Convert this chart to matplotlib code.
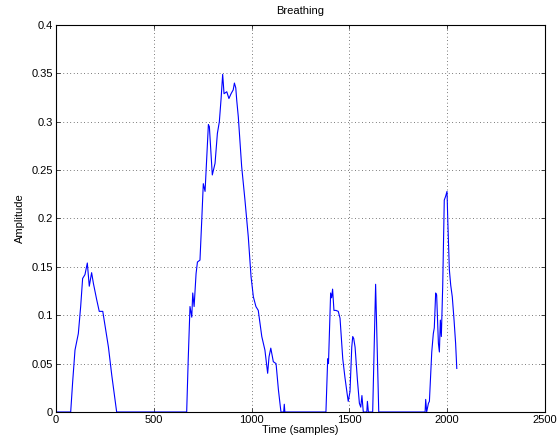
import matplotlib

matplotlib.use("Agg")
import matplotlib.pyplot as plt

# точки кривой (отсчёты, амплитуда)
samples = [
    0, 75, 85, 97, 114, 126, 136, 148, 160, 170, 182, 191, 208, 221, 239, 250, 268, 285, 310,
    668, 676, 685, 694, 699, 706, 716, 723, 736, 745, 753, 762, 779, 784, 799, 813, 825, 835,
    844, 852, 859, 873, 884, 895, 906, 912, 919, 924, 932, 949, 966, 983, 997, 1009, 1022,
    1034, 1052, 1068, 1082, 1089, 1098, 1111, 1125, 1137, 1150, 1164, 1167, 1170,
    1380, 1389, 1393, 1404, 1409, 1414, 1421, 1431, 1443, 1452, 1466, 1477, 1489, 1494, 1503,
    1512, 1517, 1522, 1529, 1541, 1551, 1558, 1564, 1571, 1589, 1592, 1597, 1619, 1634, 1650,
    1887, 1890, 1895, 1904, 1909, 1921, 1929, 1934, 1941, 1946, 1955, 1960, 1965, 1970, 1977,
    1985, 1992, 1999, 2003, 2011, 2018, 2026, 2035, 2043, 2049,
]
amplitude = [
    0, 0, 0.031, 0.064, 0.081, 0.109, 0.138, 0.142, 0.154, 0.130, 0.144, 0.133, 0.116, 0.104,
    0.104, 0.090, 0.067, 0.038, 0,
    0, 0.055, 0.109, 0.098, 0.123, 0.109, 0.143, 0.155, 0.157, 0.198, 0.236, 0.228, 0.297,
    0.295, 0.245, 0.257, 0.288, 0.300, 0.324, 0.349, 0.329, 0.331, 0.324, 0.329, 0.333, 0.340,
    0.335, 0.322, 0.305, 0.254, 0.219, 0.181, 0.140, 0.119, 0.109, 0.105, 0.078, 0.064, 0.040,
    0.057, 0.066, 0.052, 0.050, 0.023, 0, 0, 0.008, 0,
    0, 0.055, 0.050, 0.123, 0.118, 0.127, 0.105, 0.105, 0.104, 0.097, 0.055, 0.036, 0.018,
    0.011, 0.021, 0.067, 0.078, 0.076, 0.067, 0.033, 0.009, 0.005, 0.017, 0, 0, 0.011, 0, 0,
    0.132, 0,
    0, 0.013, 0, 0.009, 0.011, 0.062, 0.081, 0.087, 0.123, 0.121, 0.071, 0.062, 0.095, 0.078,
    0.130, 0.219, 0.223, 0.228, 0.198, 0.147, 0.131, 0.119, 0.095, 0.071, 0.045,
]

x_ticks = [0, 500, 1000, 1500, 2000, 2500]
y_ticks = [0, 0.05, 0.1, 0.15, 0.2, 0.25, 0.3, 0.35, 0.4]
y_labels = ["0", "0.05", "0.1", "0.15", "0.2", "0.25", "0.3", "0.35", "0.4"]

plt.rcParams["font.family"] = ["Liberation Sans", "DejaVu Sans"]
plt.rcParams["font.size"] = 8

fig = plt.figure(figsize=(5.58, 4.44), dpi=100)
ax = fig.add_axes([0.1004, 0.0721, 0.8763, 0.8716])
ax.plot(samples, amplitude, color="#0000ff", linewidth=0.8)

ax.set_xlim(0, 2500)
ax.set_ylim(0, 0.4)
ax.set_xticks(x_ticks)
ax.set_yticks(y_ticks, y_labels)
ax.tick_params(direction="in", length=3, width=0.5, top=True, right=True, pad=2)
ax.grid(True, color="black", linestyle=(0, (1, 4)), linewidth=0.5)
for s in ax.spines.values():
    s.set_linewidth(0.8)

ax.set_title("Breathing", fontsize=8, pad=8)
ax.set_xlabel("Time (samples)", labelpad=0)
ax.set_ylabel("Amplitude", labelpad=5)

fig.savefig("out.png", dpi=100)
